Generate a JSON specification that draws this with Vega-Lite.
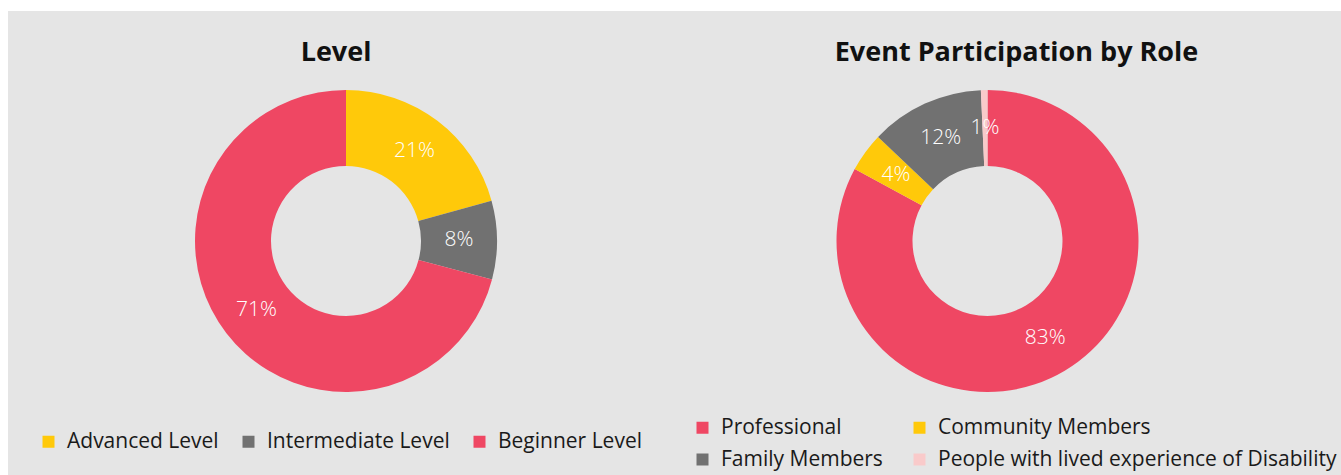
{
  "$schema": "https://vega.github.io/schema/vega-lite/v6.json",
  "background": "white",
  "padding": {"left": 8, "top": 11, "right": 0, "bottom": 0},
  "spacing": 0,
  "resolve": {"scale": {"color": "independent"}, "legend": {"color": "independent"}},
  "config": {
    "view": {"fill": "#e5e5e5", "stroke": null},
    "font": "Open Sans",
    "title": {"font": "Open Sans", "fontSize": 27, "fontWeight": "bold", "color": "#111111", "anchor": "middle", "frame": "group", "baseline": "alphabetic"},
    "legend": {"labelFont": "Open Sans", "labelFontSize": 21, "labelColor": "#1a1a1a", "labelLimit": 500, "symbolType": "square", "symbolSize": 144, "symbolStrokeWidth": 0, "labelOffset": 8, "title": null, "orient": "none"}
  },
  "hconcat": [
    {
      "width": 676,
      "height": 464,
      "view": {"fill": "#e5e5e5", "stroke": null},
      "title": {"text": "Level", "offset": -56, "dx": -10},
      "data": {"values": [
        {"category": "Advanced Level", "value": 0.207, "i": 1},
        {"category": "Intermediate Level", "value": 0.084, "i": 2},
        {"category": "Beginner Level", "value": 0.709, "i": 3}
      ]},
      "encoding": {
        "theta": {"field": "value", "type": "quantitative", "stack": true},
        "order": {"field": "i", "type": "quantitative"}
      },
      "layer": [
        {
          "mark": {"type": "arc", "outerRadius": 151, "innerRadius": 75, "yOffset": -2},
          "encoding": {
            "color": {"field": "category", "type": "nominal", "sort": null,
              "scale": {"domain": ["Advanced Level", "Intermediate Level", "Beginner Level"], "range": ["#ffc90a", "#717171", "#ef4763"]},
              "legend": {"direction": "horizontal", "columns": 3, "columnPadding": 19, "legendX": 30, "legendY": 420}}
          }
        },
        {
          "mark": {"type": "text", "radius": 113, "yOffset": -2, "font": "Open Sans", "fontWeight": 300, "fontSize": 21, "color": "white"},
          "encoding": {"text": {"field": "value", "type": "quantitative", "format": ".0%"}}
        }
      ]
    },
    {
      "width": 657,
      "height": 464,
      "view": {"fill": "#e5e5e5", "stroke": null},
      "title": {"text": "Event Participation by Role", "offset": -56, "dx": 4},
      "data": {"values": [
        {"category": "Professional", "value": 0.829, "i": 1},
        {"category": "Community Members", "value": 0.042, "i": 2},
        {"category": "Family Members", "value": 0.122, "i": 3},
        {"category": "People with lived experience of Disability", "value": 0.007, "i": 4}
      ]},
      "encoding": {
        "theta": {"field": "value", "type": "quantitative", "stack": true},
        "order": {"field": "i", "type": "quantitative"}
      },
      "layer": [
        {
          "mark": {"type": "arc", "outerRadius": 151, "innerRadius": 75, "xOffset": -25, "yOffset": -2},
          "encoding": {
            "color": {"field": "category", "type": "nominal", "sort": null,
              "scale": {"domain": ["Professional", "Community Members", "Family Members", "People with lived experience of Disability"], "range": ["#ef4763", "#ffc90a", "#717171", "#f9caca"]},
              "legend": {"direction": "horizontal", "columns": 2, "columnPadding": 26, "rowPadding": 10, "legendX": 8, "legendY": 406}}
          }
        },
        {
          "mark": {"type": "text", "radius": 113, "xOffset": -25, "yOffset": -2, "font": "Open Sans", "fontWeight": 300, "fontSize": 21, "color": "white"},
          "encoding": {"text": {"field": "value", "type": "quantitative", "format": ".0%"}}
        }
      ]
    }
  ]
}
